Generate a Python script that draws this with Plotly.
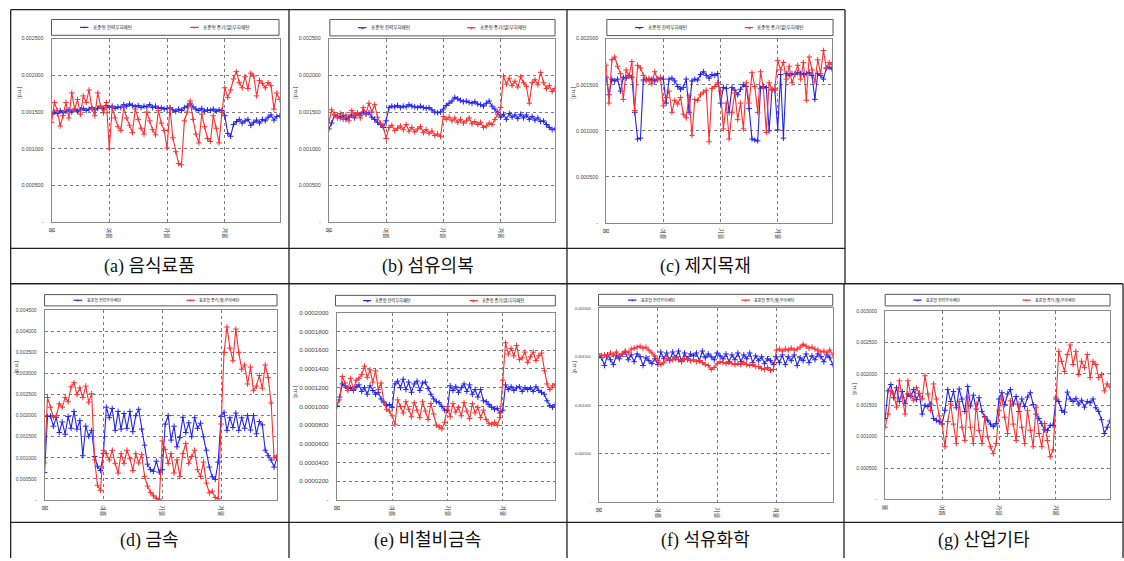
import plotly.graph_objects as go

W, H = 1124, 561
BLUE = "#2424f2"
RED = "#ff2e2e"
SEASONS = ["봄", "여름", "가을", "겨울"]
SEASON_START = [0, 20, 40, 60]
SERIES_NAMES = ["표준형 전력부하패턴", "표준형 증기(열)부하패턴"]
CAPTIONS = ["(a) 음식료품", "(b) 섬유의복", "(c) 제지목재", "(d) 금속",
            "(e) 비철비금속", "(f) 석유화학", "(g) 산업기타"]

# ---- values (units of 1e-6 p.u., panel e in 1e-7 p.u.) ----
A_ELEC = [1470, 1500, 1480, 1520, 1490, 1510, 1530, 1500, 1540, 1510, 1530, 1550, 1520, 1540, 1560, 1530, 1550, 1580, 1540, 1590,
          1560, 1580, 1550, 1570, 1560, 1600, 1580, 1610, 1590, 1570, 1590, 1560, 1580, 1570, 1600, 1560, 1580, 1550, 1560, 1540,
          1550, 1560, 1530, 1510, 1540, 1520, 1560, 1580, 1620, 1570, 1540, 1520, 1550, 1510, 1530, 1520, 1540, 1510, 1530, 1520,
          1450, 1210, 1170, 1330, 1370, 1400, 1350, 1380, 1400, 1320, 1360, 1390, 1350, 1400, 1380, 1430, 1460, 1390, 1440, 1450]
A_STEAM = [1360, 1630, 1520, 1310, 1450, 1630, 1420, 1760, 1540, 1670, 1470, 1720, 1630, 1800, 1540, 1450, 1760, 1580, 1490, 1630,
           1000, 1560, 1420, 1300, 1250, 1560, 1420, 1320, 1220, 1540, 1400, 1280, 1200, 1500, 1380, 1260, 1190, 1520, 1350, 1250,
           1010, 1560, 1150, 960, 800, 780, 1380, 1500, 1650, 1400, 1200, 1080, 1470, 1300, 1140, 1100, 1450, 1280, 1080, 1500,
           1830, 1700, 1800, 1950, 2050, 1900, 1830, 1980, 1820, 2030, 1990, 1720, 1930, 1890, 1830, 1900, 1860, 1540, 1760, 1670]

B_ELEC = [1270, 1350, 1460, 1440, 1420, 1450, 1400, 1430, 1460, 1420, 1480, 1450, 1500, 1470, 1490, 1430, 1400, 1360, 1330, 1290,
          1380, 1560, 1580, 1570, 1590, 1560, 1580, 1570, 1600, 1580, 1570, 1560, 1580, 1560, 1550, 1560, 1530, 1500, 1490, 1500,
          1540, 1590, 1620, 1650, 1700, 1680, 1660, 1640, 1650, 1630, 1620, 1640, 1610, 1600, 1580, 1620, 1650, 1580, 1540, 1490,
          1430, 1470, 1400, 1480, 1430, 1460, 1410, 1470, 1420, 1460, 1400, 1440, 1390, 1420, 1370, 1380, 1330, 1290, 1260, 1270]
B_STEAM = [1360, 1530, 1470, 1420, 1480, 1400, 1460, 1380, 1520, 1450, 1490, 1420, 1560, 1480, 1620, 1500, 1600, 1430, 1350, 1310,
           1140, 1290, 1320, 1250, 1280, 1310, 1260, 1330, 1240, 1290, 1230, 1270, 1300, 1220, 1260, 1210, 1240, 1180, 1200, 1170,
           1440, 1400, 1430, 1380, 1420, 1360, 1400, 1350, 1380, 1420, 1340, 1370, 1330, 1360, 1290, 1310, 1350, 1330, 1400, 1470,
           1560, 1990, 1880, 1960, 1860, 1920, 1840, 1980, 1900, 1850, 1620, 1900, 1940, 1870, 2040, 1900, 1820, 1860, 1780, 1820]

C_ELEC = [1580, 1390, 1560, 1540, 1560, 1430, 1580, 1570, 1600, 1580, 1200, 910, 920, 1550, 1560, 1550, 1560, 1540, 1560, 1570,
          1560, 1300, 1560, 1570, 1540, 1480, 1450, 1470, 1560, 1200, 1540, 1560, 1550, 1610, 1640, 1600, 1570, 1610, 1600, 1620,
          1300, 1470, 1460, 1200, 1470, 1440, 1390, 1450, 1500, 1480, 1240, 910, 900, 890, 1460, 1480, 1470, 1000, 1450, 1440,
          1010, 1610, 920, 1620, 1600, 1620, 1610, 1630, 1620, 1610, 1620, 1630, 1600, 1340, 1620, 1600, 1560, 1680, 1690, 1670]
C_STEAM = [1710, 1300, 1770, 1800, 1700, 1620, 1340, 1660, 1590, 1750, 1220, 1710, 1680, 1600, 1540, 1570, 1510, 1640, 1550, 1580,
           1270, 1360, 1430, 1200, 1330, 1290, 1360, 1180, 1140, 1380, 950, 1340, 1330, 1390, 1420, 1440, 880, 1460, 1480, 1520,
           1430, 1020, 1300, 910, 1200, 1410, 1120, 1300, 1020, 1520, 1300, 1630, 1480, 1200, 1640, 1460, 980, 1520, 1440, 1460,
           1760, 1660, 1740, 1560, 1700, 1520, 1620, 1710, 1560, 1740, 1330, 1800, 1660, 1530, 1770, 1620, 1870, 1680, 1740, 1720]

D_ELEC = [650, 1980, 1990, 1750, 1960, 1600, 1850, 1560, 1980, 1700, 2100, 1680, 1880, 1050, 1750, 1510, 1650, 1030, 800, 700,
          1100, 2200, 1950, 2170, 1650, 2100, 1680, 2050, 1700, 2100, 1620, 2000, 2150, 1680, 1300, 850, 720, 680, 920, 660,
          720, 1800, 2000, 1420, 1750, 1260, 1480, 1960, 1600, 1830, 1500, 1950, 1700, 1820, 1500, 1180, 780, 550, 490, 900,
          1980, 2080, 1650, 1950, 1720, 2060, 1650, 1950, 1700, 2000, 1660, 2000, 1570, 1860, 1780, 1180, 1050, 950, 780, 1000]
D_STEAM = [880, 2430, 2200, 1960, 2000, 2280, 2200, 2430, 2330, 2680, 2780, 2500, 2660, 2430, 2700, 2320, 2520, 950, 350, 230,
           1180, 1100, 950, 1180, 870, 640, 1100, 870, 1180, 990, 700, 1100, 880, 1080, 560, 330, 180, 100, 40, 20,
           1400, 1200, 870, 1100, 640, 950, 560, 1100, 1340, 870, 1030, 1180, 720, 560, 900, 400, 170, 210, 60, 30,
           1800, 3500, 4100, 3600, 3300, 4050, 3500, 3100, 3200, 2750, 3150, 2600, 2700, 2950, 2650, 3200, 2900, 2300, 1000, 1050]

E_ELEC = [1000, 1100, 1240, 1220, 1190, 1200, 1170, 1210, 1230, 1160, 1200, 1130, 1220, 1170, 1130, 1150, 1080, 1040, 1010, 1020,
          990, 1240, 1270, 1200, 1290, 1180, 1260, 1150, 1240, 1270, 1170, 1250, 1260, 1190, 1130, 1080, 1050, 1040, 1000, 960,
          960, 1220, 1170, 1210, 1150, 1200, 1240, 1160, 1230, 1130, 1180, 1100, 1180, 1060, 1050, 1020, 990, 970, 980, 930,
          960, 1230, 1180, 1210, 1170, 1200, 1210, 1160, 1200, 1180, 1200, 1160, 1210, 1170, 1150, 1130, 1060, 1010, 990, 1020]
E_STEAM = [1010, 1070, 1320, 1250, 1170, 1300, 1180, 1280, 1300, 1340, 1430, 1310, 1390, 1260, 1380, 1180, 1250, 1050, 970, 950,
           900, 810, 1070, 1000, 930, 1050, 970, 890, 1040, 960, 880, 1050, 950, 860, 1030, 920, 800, 780, 760, 830,
           1000, 890, 1030, 940, 990, 900, 1040, 950, 870, 1030, 930, 990, 880, 960, 860, 820, 810, 830, 800, 880,
           1280, 1680, 1560, 1620, 1540, 1650, 1500, 1520, 1580, 1470, 1530, 1580, 1490, 1540, 1570, 1380, 1240, 1180, 1220, 1240]

F_ELEC = [1500, 1490, 1410, 1520, 1470, 1420, 1510, 1480, 1530, 1550, 1470, 1520, 1450, 1530, 1500, 1410, 1490, 1460, 1430, 1480,
          1420, 1550, 1480, 1540, 1460, 1550, 1490, 1560, 1450, 1540, 1480, 1530, 1510, 1540, 1460, 1560, 1490, 1530, 1500, 1470,
          1540, 1510, 1480, 1530, 1450, 1520, 1470, 1540, 1450, 1520, 1480, 1540, 1440, 1510, 1460, 1500, 1430, 1480, 1460, 1420,
          1500, 1440, 1520, 1420, 1500, 1460, 1520, 1410, 1490, 1460, 1530, 1440, 1510, 1470, 1530, 1500, 1450, 1520, 1490, 1420]
F_STEAM = [1530, 1510, 1520, 1500, 1540, 1520, 1550, 1510, 1530, 1560, 1540, 1580, 1590, 1600, 1610, 1590, 1600, 1570, 1540, 1510,
           1460, 1420, 1440, 1480, 1470, 1470, 1480, 1470, 1460, 1480, 1470, 1460, 1470, 1450, 1460, 1440, 1420, 1410, 1370, 1390,
           1430, 1450, 1440, 1430, 1440, 1430, 1420, 1430, 1420, 1440, 1420, 1410, 1420, 1400, 1400, 1380, 1370, 1390, 1360, 1370,
           1570, 1580, 1560, 1580, 1570, 1590, 1570, 1580, 1600, 1630, 1610, 1590, 1600, 1580, 1570, 1550, 1560, 1540, 1570, 1520]

G_ELEC = [1290, 1730, 1830, 1620, 1780, 1560, 1720, 1530, 1680, 1640, 1750, 1590, 1690, 1360, 1500, 1480, 1520, 1290, 1260, 1240,
          1200, 1420, 1750, 1560, 1720, 1460, 1760, 1600, 1400, 1800, 1490, 1660, 1440, 1620, 1400, 1320, 1260, 1200, 1160, 1210,
          1600, 1700, 1510, 1680, 1750, 1520, 1640, 1400, 1600, 1480, 1630, 1700, 1510, 1360, 1290, 1210, 1110, 1100, 1180, 1180,
          1600, 1560, 1420, 1390, 1710, 1600, 1560, 1610, 1520, 1580, 1470, 1560, 1540, 1600, 1460, 1400, 1270, 1050, 1150, 1250]
G_STEAM = [1150, 1360, 1730, 1680, 1470, 1890, 1620, 1360, 1890, 1660, 1580, 1780, 1690, 1600, 1970, 1680, 1420, 1840, 1600, 1330,
           1210, 840, 1240, 1520, 1200, 890, 1560, 1150, 940, 1630, 1150, 890, 1520, 1100, 890, 1310, 1000, 840, 730, 890,
           1420, 1630, 1310, 1050, 1570, 1200, 940, 1520, 1150, 890, 1420, 1100, 840, 1470, 1050, 840, 1210, 940, 680, 790,
           1630, 2360, 2200, 2040, 2310, 2460, 2150, 2360, 1990, 2200, 2100, 2310, 1940, 2200, 2150, 1940, 1990, 1730, 1840, 1790]

# ---- y tick values / labels ----
TV_25 = [0, 0.0005, 0.001, 0.0015, 0.002, 0.0025]
TT_25 = ["-", "0.000500", "0.001000", "0.001500", "0.002000", "0.002500"]
TV_20 = [0, 0.0005, 0.001, 0.0015, 0.002]
TT_20 = ["-", "0.000500", "0.001000", "0.001500", "0.002000"]
TV_45 = [0, 0.0005, 0.001, 0.0015, 0.002, 0.0025, 0.003, 0.0035, 0.004, 0.0045]
TT_45 = ["-", "0.000500", "0.001000", "0.001500", "0.002000", "0.002500", "0.003000", "0.003500", "0.004000", "0.004500"]
TV_E = [0, 0.00002, 0.00004, 0.00006, 0.00008, 0.0001, 0.00012, 0.00014, 0.00016, 0.00018, 0.0002]
TT_E = ["-", "0.0000200", "0.0000400", "0.0000600", "0.0000800", "0.0001000", "0.0001200",
        "0.0001400", "0.0001600", "0.0001800", "0.0002000"]
TV_30 = [0, 0.0005, 0.001, 0.0015, 0.002, 0.0025, 0.003]
TT_30 = ["-", "0.000500", "0.001000", "0.001500", "0.002000", "0.002500", "0.003000"]


def px(x):
    return x / W


def py(y):
    return 1 - y / H


panels = [
    dict(elec=A_ELEC, steam=A_STEAM, unit=1e-6, tv=TV_25, tt=TT_25, plot=(47.7, 35, 276.7, 221),
         leg=(47.7, 15.7, 276, 31.7), yt=(15, 89), tf=5.3, lf=4.6, cap=(146.4, 265.5)),
    dict(elec=B_ELEC, steam=B_STEAM, unit=1e-6, tv=TV_25, tt=TT_25, plot=(326, 35, 553, 221),
         leg=(327, 15.7, 553, 32.3), yt=(292, 89), tf=5.3, lf=4.6, cap=(425.5, 265.5)),
    dict(elec=C_ELEC, steam=C_STEAM, unit=1e-6, tv=TV_20, tt=TT_20, plot=(604.3, 35, 831, 221.7),
         leg=(605, 15.7, 832, 32), yt=(571, 89), tf=5.3, lf=4.6, cap=(704.5, 265.5)),
    dict(elec=D_ELEC, steam=D_STEAM, unit=1e-6, tv=TV_45, tt=TT_45, plot=(40.7, 310, 274, 502.3),
         leg=(40.7, 294.3, 274, 305.7), yt=(12, 367), tf=5.0, lf=4.0, cap=(146.4, 543)),
    dict(elec=E_ELEC, steam=E_STEAM, unit=1e-7, tv=TV_E, tt=TT_E, plot=(334, 312.7, 553.3, 502.3),
         leg=(332.7, 295, 553.3, 305.7), yt=(292, 392), tf=6.2, lf=4.2, cap=(425.5, 543)),
    dict(elec=F_ELEC, steam=F_STEAM, unit=1e-6, tv=TV_20, tt=TT_20, plot=(596.7, 308.3, 831.7, 504.3),
         leg=(596.7, 294, 831.7, 305.7), yt=(572, 367), tf=3.8, lf=4.0, cap=(704, 543)),
    dict(elec=G_ELEC, steam=G_STEAM, unit=1e-6, tv=TV_30, tt=TT_30, plot=(884.3, 311, 1110, 501.7),
         leg=(884.3, 294, 1110, 305.7), yt=(853, 389), tf=5.0, lf=4.0, cap=(983, 543)),
]

fig = go.Figure()
shapes = []
annotations = []
layout_axes = {}
FONT = "Liberation Sans, Arial, sans-serif"
KFONT = "Noto Sans CJK KR, sans-serif"
GRID = dict(showgrid=True, gridcolor="#7a7a7a", griddash="dot", gridwidth=0.7,
            showline=True, mirror=True, linecolor="#8a8a8a", linewidth=1, zeroline=False, fixedrange=True)

for i, p in enumerate(panels, start=1):
    sfx = "" if i == 1 else str(i)
    xr, yr = "x" + sfx, "y" + sfx
    l, t, r, b = p["plot"]
    xs = list(range(len(p["elec"])))
    for vals, col, name in ((p["elec"], BLUE, SERIES_NAMES[0]), (p["steam"], RED, SERIES_NAMES[1])):
        fig.add_trace(go.Scatter(
            x=xs, y=[v * p["unit"] for v in vals], xaxis=xr, yaxis=yr, name=name,
            mode="lines+markers", showlegend=False,
            line=dict(color=col, width=1.1),
            marker=dict(symbol="cross-thin", size=4, color=col, line=dict(color=col, width=1)),
        ))
    layout_axes["xaxis" + sfx] = dict(
        domain=[px(l), px(r)], anchor=yr, range=[0, 79],
        tickvals=SEASON_START, ticktext=SEASONS, tickangle=90,
        tickfont=dict(size=6, color="#333", family=KFONT), ticks="", ticklabelstandoff=3, **GRID)
    layout_axes["yaxis" + sfx] = dict(
        domain=[py(b), py(t)], anchor=xr, range=[0, p["tv"][-1]],
        tickvals=p["tv"], ticktext=p["tt"], tickfont=dict(size=p["tf"], color="#444", family=FONT),
        ticks="", ticklabelstandoff=6, **GRID)

    # legend box
    ll, lt, lr, lb = p["leg"]
    lw = lr - ll
    ym = (lt + lb) / 2
    shapes.append(dict(type="rect", xref="paper", yref="paper", x0=px(ll), x1=px(lr), y0=py(lb), y1=py(lt),
                       line=dict(color="#555", width=1), fillcolor="white", layer="above"))
    for (s0, s1, tx), col, name in (((0.125, 0.162, 0.172), BLUE, SERIES_NAMES[0]),
                                    ((0.61, 0.647, 0.657), RED, SERIES_NAMES[1])):
        shapes.append(dict(type="line", xref="paper", yref="paper", x0=px(ll + s0 * lw), x1=px(ll + s1 * lw),
                           y0=py(ym), y1=py(ym), line=dict(color=col, width=1.2)))
        annotations.append(dict(xref="paper", yref="paper", x=px(ll + (s0 + s1) / 2 * lw), y=py(ym),
                                text="+", showarrow=False, font=dict(size=5, color=col, family=FONT),
                                xanchor="center", yanchor="middle"))
        annotations.append(dict(xref="paper", yref="paper", x=px(ll + tx * lw), y=py(ym), text=name,
                                showarrow=False, font=dict(size=p["lf"], color="#222", family=KFONT),
                                xanchor="left", yanchor="middle"))
    # y-axis title
    annotations.append(dict(xref="paper", yref="paper", x=px(p["yt"][0]), y=py(p["yt"][1]), text="[p.u.]",
                            textangle=-90, showarrow=False, font=dict(size=5.5, color="#333", family=FONT),
                            xanchor="center", yanchor="middle"))
    # caption
    annotations.append(dict(xref="paper", yref="paper", x=px(p["cap"][0]), y=py(p["cap"][1]), text=CAPTIONS[i - 1],
                            showarrow=False, font=dict(size=18, color="#111",
                                                       family="Liberation Serif, Noto Sans CJK KR, serif"),
                            xanchor="center", yanchor="middle"))

# table lines
TABLE_LINES = [
    (6.7, 5.7, 844, 5.7), (6.7, 247.5, 844, 247.5), (6.7, 283.3, 1123, 283.3), (6.7, 525, 1123, 525),
    (6.7, 5.7, 6.7, 561), (286, 5.7, 286, 561), (565, 5.7, 565, 561), (844, 5.7, 844, 283.3),
    (843, 283.3, 843, 561), (1123, 283.3, 1123, 561),
]
for x0, y0, x1, y1 in TABLE_LINES:
    shapes.append(dict(type="line", xref="paper", yref="paper", x0=px(x0), y0=py(y0), x1=px(x1), y1=py(y1),
                       line=dict(color="#222", width=1.3)))

fig.update_layout(
    width=W, height=H, autosize=False, margin=dict(l=0, r=0, t=0, b=0),
    paper_bgcolor="white", plot_bgcolor="white", showlegend=False,
    shapes=shapes, annotations=annotations, **layout_axes)

fig.write_html("out.html", config={"displayModeBar": False},
               post_script="document.body.style.margin='0';document.body.style.overflow='hidden';")
